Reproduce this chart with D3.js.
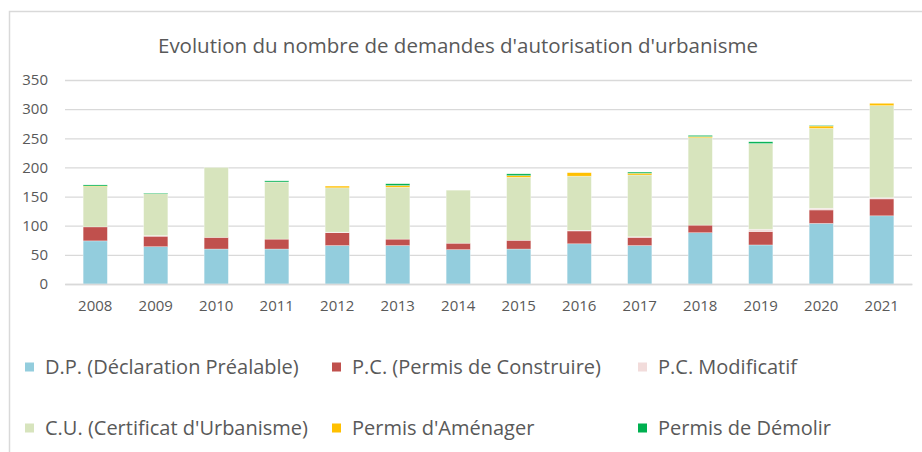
<!DOCTYPE html>
<html lang="fr">
<head>
<meta charset="UTF-8">
<title>Evolution du nombre de demandes d'autorisation d'urbanisme</title>
<script src="https://d3js.org/d3.v7.min.js"></script>
<style>
    body { margin: 0; background: #fff; overflow: hidden; }
    svg, svg text { font-family: "Open Sans", sans-serif; }
    .tick text { fill: #595959; }
</style>
</head>
<body>
<svg id="chart" width="922" height="452"></svg>
<script>
// Data
var years = ["2008", "2009", "2010", "2011", "2012", "2013", "2014", "2015", "2016", "2017", "2018", "2019", "2020", "2021"];
var dp  = [74, 64, 60, 60, 66, 66, 59, 60, 69, 66, 88, 67, 104, 117];
var pc  = [24, 18, 20, 17, 22, 11, 11, 15, 22, 14, 13, 23, 23, 29];
var pcm = [0, 1, 0, 0, 1, 0, 0, 0, 1, 1, 0, 4, 3, 2];
var cu  = [69, 72, 120, 98, 76, 89, 91, 108, 93, 106, 150, 147, 137, 158];
var pa  = [1, 0, 0, 0, 3, 3, 0, 3, 6, 3, 2, 0, 4, 4];
var pd  = [2, 1, 0, 2, 0, 3, 0, 3, 0, 2, 2, 3, 1, 0];
var seriesNames = ["D.P. (Déclaration Préalable)", "P.C. (Permis de Construire)", "P.C. Modificatif",
    "C.U. (Certificat d'Urbanisme)", "Permis d'Aménager", "Permis de Démolir"];
var yTicks = [0, 50, 100, 150, 200, 250, 300, 350];
var title = "Evolution du nombre de demandes d'autorisation d'urbanisme";

var colors = ["#93cddd", "#c0504d", "#f2dcdb", "#d7e4bd", "#ffc000", "#00b050"];
var seriesValues = [dp, pc, pcm, cu, pa, pd];
var keys = d3.range(seriesNames.length);

var rows = years.map(function (y, i) {
    var r = { year: y };
    keys.forEach(function (k) { r[k] = seriesValues[k][i]; });
    return r;
});
var stacked = d3.stack().keys(keys)(rows);

var svg = d3.select("#chart");

// chart frame
svg.append("path")
    .attr("d", "M9.5,460V11.5H930")
    .attr("fill", "none")
    .attr("stroke", "#d9d9d9")
    .attr("stroke-width", 1.5);

var plot = { left: 65, right: 912, top: 80, bottom: 284 };

var x = d3.scaleBand().domain(years).range([plot.left, plot.right]).paddingInner(0.6).paddingOuter(0.3);
var y = d3.scaleLinear().domain([0, 350]).range([plot.bottom, plot.top]);

// gridlines + y labels
var yAxis = svg.append("g")
    .attr("transform", "translate(" + plot.left + ",0)")
    .call(d3.axisLeft(y).tickValues(yTicks).tickSize(-(plot.right - plot.left)).tickPadding(17));
yAxis.attr("font-family", null);
yAxis.select(".domain").remove();
yAxis.selectAll(".tick line").attr("stroke", "#d9d9d9").attr("stroke-width", 1.3);
yAxis.selectAll(".tick text").attr("font-size", 15);

// bars
svg.append("g").selectAll("g")
    .data(stacked)
    .join("g")
    .attr("fill", function (d) { return colors[d.key]; })
    .selectAll("rect")
    .data(function (d) { return d; })
    .join("rect")
    .attr("x", function (d) { return x(d.data.year); })
    .attr("width", x.bandwidth())
    .attr("y", function (d) { return y(d[1]); })
    .attr("height", function (d) { return Math.max(0, y(d[0]) - y(d[1])); })
    .attr("stroke", "#fff")
    .attr("stroke-opacity", 0.5)
    .attr("stroke-width", 0.6);

// x axis
var xAxis = svg.append("g")
    .attr("transform", "translate(0," + plot.bottom + ")")
    .call(d3.axisBottom(x).tickSize(0).tickPadding(16));
xAxis.attr("font-family", null);
xAxis.select(".domain").attr("stroke", "#d9d9d9").attr("stroke-width", 1.3);
xAxis.selectAll(".tick text").attr("font-size", 15);

// title
svg.append("text")
    .attr("x", 458)
    .attr("y", 53)
    .attr("text-anchor", "middle")
    .attr("font-size", 20.5)
    .attr("fill", "#595959")
    .text(title);

// legend, 3 columns x 2 rows
var legendX = [25, 332, 638];
var legendY = [367, 428];
var legend = svg.append("g").selectAll("g")
    .data(keys)
    .join("g")
    .attr("transform", function (k) {
        return "translate(" + legendX[k % 3] + "," + legendY[Math.floor(k / 3)] + ")";
    });
legend.append("rect")
    .attr("x", 0).attr("y", -4.5)
    .attr("width", 9).attr("height", 9)
    .attr("fill", function (k) { return colors[k]; });
legend.append("text")
    .attr("x", 20)
    .attr("dy", "0.35em")
    .attr("font-size", 20)
    .attr("fill", "#595959")
    .text(function (k) { return seriesNames[k]; });
</script>
</body>
</html>
